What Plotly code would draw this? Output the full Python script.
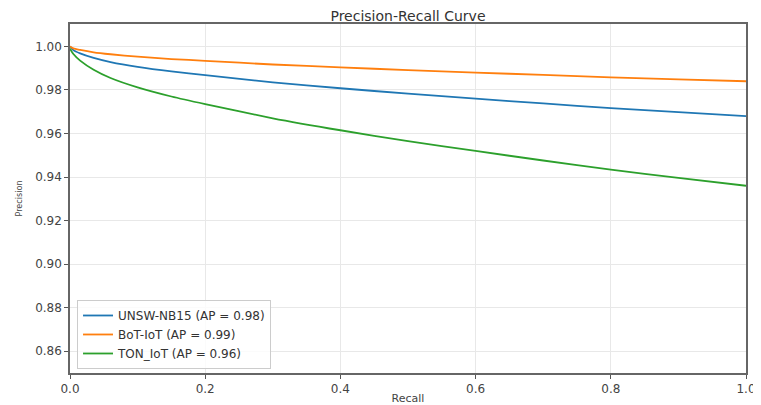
import plotly.graph_objects as go

recall = [0.0, 0.005, 0.015, 0.035, 0.06, 0.1, 0.15, 0.2, 0.3, 0.4, 0.5, 0.6, 0.7, 0.8, 0.9, 1.0]
prec_unsw = [1.0, 0.9983, 0.9968, 0.9947, 0.9928, 0.9906, 0.9885, 0.9868, 0.9835, 0.9808, 0.9783, 0.976, 0.9738, 0.9717, 0.9698, 0.968]
prec_bot = [1.0, 0.9991, 0.9984, 0.9973, 0.9964, 0.9953, 0.9942, 0.9934, 0.9917, 0.9904, 0.9891, 0.988, 0.9869, 0.9858, 0.9849, 0.984]
prec_ton = [0.999, 0.9965, 0.9935, 0.9893, 0.9855, 0.9812, 0.977, 0.9735, 0.967, 0.9615, 0.9565, 0.952, 0.9476, 0.9434, 0.9396, 0.936]

names = ["UNSW-NB15 (AP = 0.98)", "BoT-IoT (AP = 0.99)", "TON_IoT (AP = 0.96)"]
colors = ["#1f77b4", "#ff7f0e", "#2ca02c"]
series = [prec_unsw, prec_bot, prec_ton]

x_ticks = [0.0, 0.2, 0.4, 0.6, 0.8, 1.0]
y_ticks = [0.86, 0.88, 0.90, 0.92, 0.94, 0.96, 0.98, 1.00]

fig = go.Figure()
for n, c, p in zip(names, colors, series):
    fig.add_trace(go.Scatter(x=recall, y=p, mode="lines", name=n,
                             line=dict(color=c, width=1.8, shape="spline", smoothing=0.6)))

font = "DejaVu Sans"
fig.update_layout(
    width=753, height=397,
    margin=dict(l=62, r=15, t=16, b=32),
    paper_bgcolor="white", plot_bgcolor="white",
    title=dict(text="Precision-Recall Curve", x=0.5, xref="paper", xanchor="center",
               y=1, yref="paper", yanchor="bottom", pad=dict(b=3),
               font=dict(family=font, size=14, color="#333")),
    font=dict(family=font, size=12, color="#444"),
    showlegend=True,
    legend=dict(x=0.0104, y=0.0115, xanchor="left", yanchor="bottom",
                bgcolor="rgba(255,255,255,0.8)", bordercolor="#cccccc", borderwidth=1,
                font=dict(family=font, size=12, color="#333"), tracegroupgap=0,
                itemwidth=30),
)
fig.update_xaxes(range=[0, 1], tickvals=x_ticks, ticktext=[f"{v:.1f}" for v in x_ticks],
                 automargin=False,
                 showgrid=True, gridcolor="#e8e8e8", gridwidth=1, zeroline=False,
                 showline=True, linecolor="#666", linewidth=1.5, mirror=True,
                 ticks="outside", ticklen=4, tickcolor="#555",
                 tickfont=dict(family=font, size=12, color="#444"),
                 title=dict(text="Recall", font=dict(family=font, size=11, color="#444"), standoff=2))
fig.update_yaxes(range=[0.85, 1.0103], tickvals=y_ticks, ticktext=[f"{v:.2f}" for v in y_ticks],
                 automargin=False,
                 showgrid=True, gridcolor="#e8e8e8", gridwidth=1, zeroline=False,
                 showline=True, linecolor="#666", linewidth=1.5, mirror=True,
                 ticks="outside", ticklen=4, tickcolor="#555",
                 tickfont=dict(family=font, size=12, color="#444"),
                 title=dict(text="Precision", font=dict(family="DejaVu Sans Condensed, DejaVu Sans", size=9, color="#444"), standoff=11))
fig.write_html("out.html")
